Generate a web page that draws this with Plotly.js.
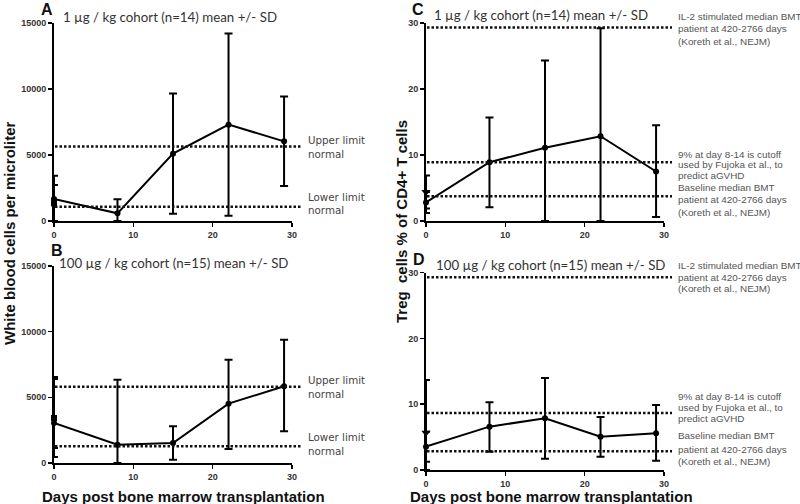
<!DOCTYPE html>
<html><head><meta charset="utf-8">
<script src="https://cdn.plot.ly/plotly-3.0.1.min.js"></script>
<style>html,body{margin:0;padding:0;background:#fff}</style>
</head><body><div id="chart" style="width:800px;height:504px"></div>
<script>
// ---------- data ----------
const days = [0, 8, 15, 22, 29];
const baseDay = [0];

// A: WBC, 1 µg/kg cohort
const wbcLowMean  = [1670, 580, 5100, 7300, 6035];
const wbcLowUpper = [3430, 1640, 9650, 14200, 9440];
const wbcLowLower = [0, 0, 555, 400, 2650];
const wbcLowBaseMean = [1340], wbcLowBaseUpper = [2730], wbcLowBaseLower = [0];
const wbcLowLimits = [5650, 1085];

// B: WBC, 100 µg/kg cohort
const wbcHighMean  = [3050, 1390, 1520, 4520, 5840];
const wbcHighUpper = [6400, 6330, 2790, 7870, 9390];
const wbcHighLower = [460, 0, 250, 1070, 2410];
const wbcHighBaseMean = [3430], wbcHighBaseUpper = [6550], wbcHighBaseLower = [1140];
const wbcHighLimits = [5810, 1270];

// C: Treg %, 1 µg/kg cohort
const tregLowMean  = [2.8, 8.9, 11.1, 12.85, 7.5];
const tregLowUpper = [4.4, 15.7, 24.3, 29.2, 14.5];
const tregLowLower = [1.2, 2.07, 0, 0, 0.6];
const tregLowBaseMean = [4.4], tregLowBaseUpper = [6.9], tregLowBaseLower = [1.9];
const tregLowRefs = [29.3, 8.9, 3.75];

// D: Treg %, 100 µg/kg cohort
const tregHighMean  = [3.55, 6.59, 7.86, 5.07, 5.58];
const tregHighUpper = [5.83, 10.3, 14.0, 8.06, 9.88];
const tregHighLower = [1.27, 2.79, 1.72, 2.03, 1.42];
const tregHighBaseMean = [5.67], tregHighBaseUpper = [13.7], tregHighBaseLower = [0];
const tregHighRefs = [29.3, 8.67, 2.84];

const wbcTicks = [0, 5000, 10000, 15000];
const pctTicks = [0, 10, 20, 30];
const dayTicks = [0, 10, 20, 30];

// ---------- helpers ----------
const W = 800, H = 504;
const px = v => v / W, py = v => 1 - v / H;

function series(xa, ya, x, mean, up, lo, symbol, size, line) {
  return {
    type: 'scatter', mode: line ? 'lines+markers' : 'markers',
    xaxis: xa, yaxis: ya, x: x, y: mean, cliponaxis: false,
    line: {color: '#000', width: 2},
    marker: {color: '#000', size: size, symbol: symbol},
    error_y: {type: 'data', symmetric: false,
      array: up.map((u, i) => u - mean[i]),
      arrayminus: lo.map((l, i) => mean[i] - l),
      color: '#000', thickness: 2, width: 4},
    hoverinfo: 'skip'
  };
}

const traces = [
  series('x', 'y', baseDay, wbcLowBaseMean, wbcLowBaseUpper, wbcLowBaseLower, 'square', 6, false),
  series('x', 'y', days, wbcLowMean, wbcLowUpper, wbcLowLower, 'circle', 6, true),
  series('x2', 'y2', baseDay, wbcHighBaseMean, wbcHighBaseUpper, wbcHighBaseLower, 'square', 6, false),
  series('x2', 'y2', days, wbcHighMean, wbcHighUpper, wbcHighLower, 'circle', 6, true),
  series('x3', 'y3', baseDay, tregLowBaseMean, tregLowBaseUpper, tregLowBaseLower, 'triangle-down', 8, false),
  series('x3', 'y3', days, tregLowMean, tregLowUpper, tregLowLower, 'circle', 6, true),
  series('x4', 'y4', baseDay, tregHighBaseMean, tregHighBaseUpper, tregHighBaseLower, 'triangle-down', 8, false),
  series('x4', 'y4', days, tregHighMean, tregHighUpper, tregHighLower, 'circle', 6, true)
];

const tickfont = {family: 'Liberation Sans, Arial, sans-serif', size: 9, color: '#333', weight: 'bold'};
function xAxis(dom, anchor) {
  return {domain: dom, anchor: anchor, range: [0, 30], tickvals: dayTicks, ticktext: dayTicks.map(String),
    showline: true, linecolor: '#000', linewidth: 2, ticks: 'outside', ticklen: 4, tickwidth: 1.5,
    tickcolor: '#000', showgrid: false, zeroline: false, tickfont: tickfont, fixedrange: true};
}
function yAxis(dom, anchor, max, ticks) {
  return {domain: dom, anchor: anchor, range: [0, max], tickvals: ticks, ticktext: ticks.map(String),
    showline: true, linecolor: '#000', linewidth: 2, ticks: 'outside', ticklen: 4, tickwidth: 1.5,
    tickcolor: '#000', showgrid: false, zeroline: false, tickfont: tickfont, fixedrange: true};
}

const xL = [px(54), px(292)], xR = [px(426), px(664)];
const yTop = [py(221), py(23)], yBL = [py(463), py(266)], yBR = [py(470), py(272.7)];

const shapes = [];
function dotted(yref, vals, x0, x1) {
  vals.forEach(v => shapes.push({type: 'line', xref: 'paper', yref: yref, x0: x0, x1: x1, y0: v, y1: v,
    line: {color: '#111', width: 2.5, dash: '2.5px,2px'}}));
}
dotted('y', wbcLowLimits, px(55), px(301));
dotted('y2', wbcHighLimits, px(55), px(301));
dotted('y3', tregLowRefs, px(427), px(672));
dotted('y4', tregHighRefs, px(427), px(672));

const ann = [];
function txt(text, x, y, opts) {
  ann.push(Object.assign({text: text, xref: 'paper', yref: 'paper', x: px(x), y: py(y),
    xanchor: 'left', yanchor: 'middle', showarrow: false,
    font: {family: 'Liberation Sans, Arial, sans-serif', size: 9.9, color: '#555'}}, opts || {}));
}
const letterFont = {family: 'Liberation Sans, Arial, sans-serif', size: 16, color: '#111', weight: 'bold'};
txt('A', 47, 9, {xanchor: 'center', font: letterFont});
txt('B', 57, 250, {xanchor: 'center', font: letterFont});
txt('C', 418, 9, {xanchor: 'center', font: letterFont});
txt('D', 419, 259, {xanchor: 'center', font: letterFont});

const subFont = {family: 'Lato, Open Sans, sans-serif', size: 13.3, color: '#333'};
txt('1 µg / kg cohort (n=14) mean +/- SD', 61, 17, {font: subFont});
txt('100 µg / kg cohort (n=15) mean +/- SD', 57, 263, {font: subFont});
txt('1 µg / kg cohort (n=14) mean +/- SD', 432, 15, {font: subFont});
txt('100 µg / kg cohort (n=15) mean +/- SD', 434, 265, {font: subFont});

const limFont = {family: 'DejaVu Sans, sans-serif', size: 10.3, color: '#444'};
txt('Upper limit', 306, 140, {font: limFont}); txt('normal', 306, 154, {font: limFont});
txt('Lower limit', 306, 197, {font: limFont}); txt('normal', 306, 210, {font: limFont});
txt('Upper limit', 306, 380, {font: limFont}); txt('normal', 306, 394, {font: limFont});
txt('Lower limit', 306, 437, {font: limFont}); txt('normal', 306, 451, {font: limFont});

const refLinesC = [
  ['IL-2 stimulated median BMT', 16], ['patient at 420-2766 days', 28], ['(Koreth et al., NEJM)', 41],
  ['9% at day 8-14 is cutoff', 154], ['used by Fujoka et al., to', 164.5], ['predict aGVHD', 175.5],
  ['Baseline median BMT', 187.5], ['patient at 420-2766 days', 200], ['(Koreth et al., NEJM)', 212]
];
const refLinesD = [
  ['IL-2 stimulated median BMT', 265], ['patient at 420-2766 days', 277], ['(Koreth et al., NEJM)', 288],
  ['9% at day 8-14 is cutoff', 396], ['used by Fujoka et al., to', 407], ['predict aGVHD', 418.5],
  ['Baseline median BMT', 435], ['patient at 420-2766 days', 449], ['(Koreth et al., NEJM)', 461]
];
refLinesC.concat(refLinesD).forEach(l => txt(l[0], 676, l[1]));

const titleFont = {family: 'Liberation Sans, Arial, sans-serif', size: 15, color: '#111', weight: 'bold'};
txt('White blood cells per microliter', 9, 233, {xanchor: 'center', textangle: -90, font: titleFont});
txt('Treg  cells % of CD4+ T cells', 401, 222, {xanchor: 'center', textangle: -90, font: titleFont});
txt('Days post bone marrow transplantation', 183, 496, {xanchor: 'center', font: titleFont});
txt('Days post bone marrow transplantation', 551, 496, {xanchor: 'center', font: titleFont});

const layout = {
  width: W, height: H, margin: {l: 0, r: 0, t: 0, b: 0},
  paper_bgcolor: '#fff', plot_bgcolor: 'rgba(0,0,0,0)', showlegend: false,
  xaxis: xAxis(xL, 'y'), yaxis: yAxis(yTop, 'x', 15000, wbcTicks),
  xaxis2: xAxis(xL, 'y2'), yaxis2: yAxis(yBL, 'x2', 15000, wbcTicks),
  xaxis3: xAxis(xR, 'y3'), yaxis3: yAxis(yTop, 'x3', 30, pctTicks),
  xaxis4: xAxis(xR, 'y4'), yaxis4: yAxis(yBR, 'x4', 30, pctTicks),
  shapes: shapes, annotations: ann
};
Plotly.newPlot('chart', traces, layout, {displayModeBar: false, staticPlot: true});
</script></body></html>
